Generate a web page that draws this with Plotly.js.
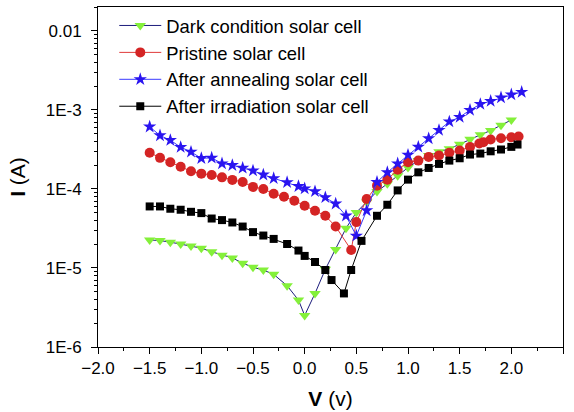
<!DOCTYPE html>
<html>
<head>
<meta charset="utf-8">
<script src="https://cdn.plot.ly/plotly-3.0.1.min.js"></script>
<style>html,body{margin:0;padding:0;background:#fff;}#chart{width:574px;height:412px;}</style>
</head>
<body>
<div id="chart"></div>
<script>
// Series names
const seriesNames = ["Dark condition solar cell", "Pristine solar cell", "After annealing solar cell", "After irradiation solar cell"];

// Dark condition
const vDark = [-1.5,-1.4,-1.3,-1.2,-1.1,-1.0,-0.9,-0.8,-0.7,-0.6,-0.5,-0.4,-0.3,-0.17,-0.06,0.0,0.1,0.2,0.3,0.4,0.5,0.6,0.7,0.8,0.9,1.0,1.1,1.2,1.3,1.4,1.5,1.6,1.7,1.8,1.9,2.0];
const iDark = [2.26e-5,2.22e-5,2.12e-5,2.01e-5,1.90e-5,1.78e-5,1.60e-5,1.45e-5,1.34e-5,1.15e-5,1.02e-5,9.4e-6,8.3e-6,5.96e-6,3.92e-6,2.51e-6,4.76e-6,9.6e-6,1.71e-5,3.18e-5,5.04e-5,6.84e-5,9.29e-5,1.16e-4,1.47e-4,1.86e-4,2.28e-4,2.64e-4,2.96e-4,3.21e-4,3.67e-4,4.26e-4,4.83e-4,5.48e-4,6.40e-4,7.45e-4];

// Pristine
const vPristine = [-1.5,-1.4,-1.3,-1.2,-1.1,-1.0,-0.9,-0.8,-0.7,-0.6,-0.5,-0.4,-0.3,-0.2,-0.1,0.0,0.1,0.2,0.3,0.45,0.5,0.6,0.7,0.8,0.9,1.0,1.1,1.2,1.3,1.4,1.5,1.6,1.69,1.73,1.8,1.9,2.0,2.07];
const iPristine = [2.86e-4,2.47e-4,2.17e-4,1.91e-4,1.67e-4,1.56e-4,1.50e-4,1.40e-4,1.30e-4,1.22e-4,1.06e-4,9.98e-5,8.69e-5,7.96e-5,7.08e-5,6.12e-5,5.28e-5,4.57e-5,3.34e-5,1.69e-5,3.80e-5,7.45e-5,1.10e-4,1.31e-4,1.75e-4,2.17e-4,2.28e-4,2.54e-4,2.64e-4,2.86e-4,3.05e-4,3.40e-4,3.75e-4,3.89e-4,4.22e-4,4.38e-4,4.51e-4,4.60e-4];

// After annealing
const vAnneal = [-1.5,-1.4,-1.3,-1.2,-1.1,-1.0,-0.9,-0.8,-0.7,-0.6,-0.5,-0.4,-0.3,-0.17,-0.06,0.0,0.1,0.2,0.3,0.4,0.5,0.6,0.7,0.8,0.9,1.0,1.1,1.2,1.3,1.4,1.5,1.6,1.7,1.8,1.9,2.0,2.1];
const iAnneal = [6.11e-4,4.74e-4,4.13e-4,3.37e-4,2.94e-4,2.44e-4,2.47e-4,2.09e-4,1.99e-4,1.84e-4,1.70e-4,1.51e-4,1.36e-4,1.21e-4,1.08e-4,1.01e-4,9.29e-5,7.80e-5,6.49e-5,4.57e-5,2.55e-5,5.33e-5,1.22e-4,1.62e-4,2.09e-4,2.69e-4,3.40e-4,4.34e-4,5.53e-4,7.08e-4,8.09e-4,9.93e-4,1.18e-3,1.29e-3,1.43e-3,1.56e-3,1.68e-3];

// After irradiation
const vIrrad = [-1.5,-1.4,-1.3,-1.2,-1.1,-1.0,-0.9,-0.8,-0.7,-0.6,-0.5,-0.4,-0.3,-0.17,-0.06,0.0,0.1,0.2,0.26,0.38,0.45,0.55,0.7,0.8,0.9,1.0,1.1,1.2,1.3,1.4,1.5,1.6,1.7,1.8,1.9,2.0,2.06];
const iIrrad = [6.00e-5,6.00e-5,5.61e-5,5.45e-5,5.13e-5,4.94e-5,4.22e-5,4.03e-5,3.76e-5,3.34e-5,2.84e-5,2.57e-5,2.33e-5,2.01e-5,1.66e-5,1.42e-5,1.19e-5,9.42e-6,7.03e-6,4.76e-6,9.42e-6,2.20e-5,4.57e-5,6.30e-5,9.57e-5,1.31e-4,1.62e-4,1.84e-4,2.07e-4,2.28e-4,2.44e-4,2.72e-4,2.80e-4,2.99e-4,3.15e-4,3.40e-4,3.64e-4];

// Y tick labels
const yTickVals = [1e-6, 1e-5, 1e-4, 1e-3, 1e-2];
const yTickText = ["1E-6", "1E-5", "1E-4", "1E-3", "0.01"];

const FONT = "Liberation Sans, Arial, sans-serif";

const minorY = [];
for (let e = -6; e <= -2; e++) for (let m = 2; m <= 9; m++) minorY.push(m * Math.pow(10, e));

const traces = [
  {x: vDark, y: iDark, name: seriesNames[0], mode: "lines+markers",
   line: {color: "#1c1c7c", width: 1}, marker: {symbol: "triangle-down", size: 10, color: "#84f03a"}},
  {x: vPristine, y: iPristine, name: seriesNames[1], mode: "lines+markers",
   line: {color: "#e03a3a", width: 1}, marker: {symbol: "circle", size: 10, color: "#d42424"}},
  {x: vAnneal, y: iAnneal, name: seriesNames[2], mode: "lines+markers",
   line: {color: "#3a3aff", width: 1}, marker: {symbol: "star", size: 10, color: "#2a14f0"}},
  {x: vIrrad, y: iIrrad, name: seriesNames[3], mode: "lines+markers",
   line: {color: "#000000", width: 1}, marker: {symbol: "square", size: 8, color: "#000000"}}
];

const layout = {
  width: 574, height: 412,
  margin: {l: 98, r: 11, t: 7, b: 65},
  paper_bgcolor: "#ffffff", plot_bgcolor: "#ffffff",
  font: {family: FONT, color: "#000", size: 17},
  showlegend: true,
  legend: {x: 0.035, y: 1.0, xanchor: "left", yanchor: "top", bgcolor: "rgba(0,0,0,0)",
           font: {family: FONT, size: 18.4, color: "#000"}, traceorder: "normal",
           itemwidth: 42},
  xaxis: {
    range: [-2, 2.5], dtick: 0.5, tick0: 0, tickformat: ".1f",
    showgrid: false, zeroline: false, showline: true, linecolor: "#000", linewidth: 1, mirror: true,
    ticks: "outside", ticklen: 6, tickcolor: "#000", tickwidth: 1,
    tickfont: {family: FONT, size: 17, color: "#000"},
    minor: {dtick: 0.25, tick0: 0, ticks: "outside", ticklen: 3, tickcolor: "#000", showgrid: false},
    title: {text: "<b>V</b> (v)", font: {family: FONT, size: 21, color: "#000"}, standoff: 13}
  },
  yaxis: {
    type: "log", range: [-6, Math.log10(0.02)],
    tickmode: "array", tickvals: yTickVals, ticktext: yTickText,
    showgrid: false, zeroline: false, showline: true, linecolor: "#000", linewidth: 1, mirror: true,
    ticks: "outside", ticklen: 6, tickcolor: "#000", tickwidth: 1, ticklabelstandoff: 6,
    tickfont: {family: FONT, size: 17, color: "#000"},
    minor: {tickmode: "array", tickvals: minorY, ticks: "outside", ticklen: 3, tickcolor: "#000", showgrid: false},
    title: {text: "<b>I</b> (A)", font: {family: FONT, size: 21, color: "#000"}, standoff: 14}
  }
};

Plotly.newPlot("chart", traces, layout, {displayModeBar: false, staticPlot: true});
</script>
</body>
</html>
